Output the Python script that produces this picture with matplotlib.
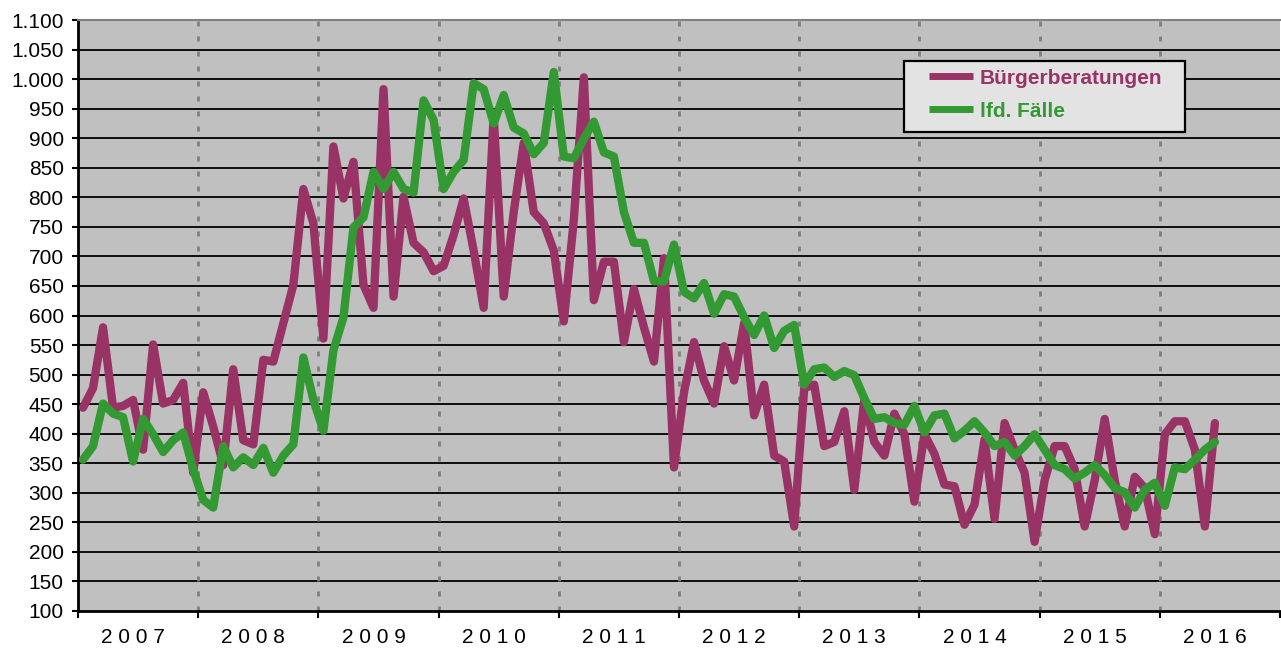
import matplotlib

matplotlib.use("Agg")
import matplotlib.pyplot as plt
from matplotlib.lines import Line2D
from matplotlib.patches import Rectangle
from matplotlib.ticker import FixedLocator, FuncFormatter

plt.rcParams["font.family"] = ["Liberation Sans", "DejaVu Sans"]

# monthly values, Jan 2007 .. Jun 2016
YEARS = ["2007", "2008", "2009", "2010", "2011", "2012", "2013", "2014", "2015", "2016"]

beratungen = [
    444, 477, 580, 444, 447, 457, 373, 551, 451, 457, 486, 334,  # 2007
    470, 412, 347, 509, 389, 382, 525, 522, 587, 652, 814, 756,  # 2008
    561, 886, 798, 860, 652, 613, 983, 632, 801, 723, 707, 675,  # 2009
    684, 736, 798, 710, 613, 938, 632, 775, 892, 775, 756, 710,  # 2010
    590, 762, 1003, 626, 691, 691, 555, 645, 580, 522, 697, 343,  # 2011
    470, 555, 490, 451, 548, 490, 587, 431, 483, 363, 353, 243,  # 2012
    477, 483, 379, 386, 438, 305, 457, 386, 363, 434, 399, 285,  # 2013
    399, 366, 314, 311, 246, 280, 390, 256, 418, 373, 334, 217,  # 2014
    321, 379, 379, 340, 243, 321, 425, 321, 243, 327, 308, 230,  # 2015
    399, 421, 421, 373, 243, 418,                                # 2016
]

faelle = [
    356, 379, 451, 434, 428, 353, 425, 399, 369, 389, 402, 340,  # 2007
    288, 275, 379, 343, 360, 347, 376, 334, 363, 382, 529, 457,  # 2008
    405, 541, 597, 749, 766, 843, 814, 843, 814, 808, 964, 931,  # 2009
    814, 843, 863, 993, 983, 925, 973, 918, 908, 873, 892, 1012,  # 2010
    869, 866, 899, 928, 876, 869, 775, 723, 723, 658, 658, 720,  # 2011
    640, 629, 655, 603, 636, 632, 597, 567, 600, 545, 574, 584,  # 2012
    483, 509, 512, 496, 506, 499, 460, 425, 428, 418, 415, 447,  # 2013
    402, 431, 434, 392, 405, 421, 402, 379, 386, 363, 379, 399,  # 2014
    373, 347, 340, 324, 334, 347, 330, 308, 301, 275, 305, 317,  # 2015
    278, 343, 340, 356, 373, 386,                                # 2016
]

SERIES_NAMES = ["Bürgerberatungen", "lfd. Fälle"]
PURPLE = "#993366"
GREEN = "#339933"

fig = plt.figure(figsize=(12.81, 6.52), dpi=100)
W, H = 1281, 652
left, right, top, bottom = 78, 1280, 20, 611
ax = fig.add_axes([left / W, (H - bottom) / H, (right - left) / W, (bottom - top) / H])
ax.set_facecolor("#C0C0C0")

months = [i + 0.5 for i in range(len(beratungen))]
ax.plot(months, beratungen, color=PURPLE, lw=6, solid_joinstyle="round",
        solid_capstyle="round", zorder=4)
ax.plot(months, faelle, color=GREEN, lw=6, solid_joinstyle="round",
        solid_capstyle="round", zorder=5)

ax.set_xlim(0, 12 * len(YEARS))
ax.set_ylim(100, 1100)

# grid
for v in range(150, 1100, 50):
    ax.axhline(v, color="black", lw=1.3, zorder=1)
for k in range(1, len(YEARS)):
    ax.axvline(12 * k, color="#808080", lw=2.0, dashes=(1.8, 3.6), zorder=1)

ax.yaxis.set_major_locator(FixedLocator(list(range(100, 1101, 50))))
ax.yaxis.set_major_formatter(FuncFormatter(lambda v, p: f"{v:,.0f}".replace(",", ".")))
ax.tick_params(axis="y", length=4.3, width=1.5, pad=6, labelsize=15, colors="black")

ax.xaxis.set_major_locator(FixedLocator([12 * k for k in range(len(YEARS) + 1)]))
ax.xaxis.set_major_formatter(FuncFormatter(lambda v, p: ""))
ax.xaxis.set_minor_locator(FixedLocator([12 * k + 5.5 for k in range(len(YEARS))]))
ax.set_xticklabels([" ".join(y) for y in YEARS], minor=True)
ax.tick_params(axis="x", which="major", length=5, width=1.5)
ax.tick_params(axis="x", which="minor", length=0, pad=12, labelsize=15)

for side in ("left", "bottom"):
    ax.spines[side].set_linewidth(2)
    ax.spines[side].set_color("black")
ax.spines["top"].set_color("#808080")
ax.spines["top"].set_linewidth(1.5)
ax.spines["right"].set_visible(False)

# legend box (drawn by hand to match the original's proportions)
def px_x(x):
    return (x - left) / (right - left)


def px_y(y):
    return (bottom - y) / (bottom - top)


ax.add_patch(Rectangle((px_x(904), px_y(132)), px_x(1185) - px_x(904), px_y(61) - px_y(132),
                       transform=ax.transAxes, facecolor="#E3E3E3", edgecolor="black",
                       lw=1.6, zorder=6))
for name, col, ly, ty in zip(SERIES_NAMES, [PURPLE, GREEN], [75.5, 109], [78, 111.5]):
    ax.add_line(Line2D([px_x(929), px_x(973)], [px_y(ly), px_y(ly)], transform=ax.transAxes,
                       color=col, lw=5, solid_capstyle="butt", zorder=7))
    ax.text(px_x(980), px_y(ty), name, transform=ax.transAxes, color=col, fontsize=15,
            fontweight="bold", va="center", ha="left", zorder=7)

fig.savefig("out.png", dpi=100)
